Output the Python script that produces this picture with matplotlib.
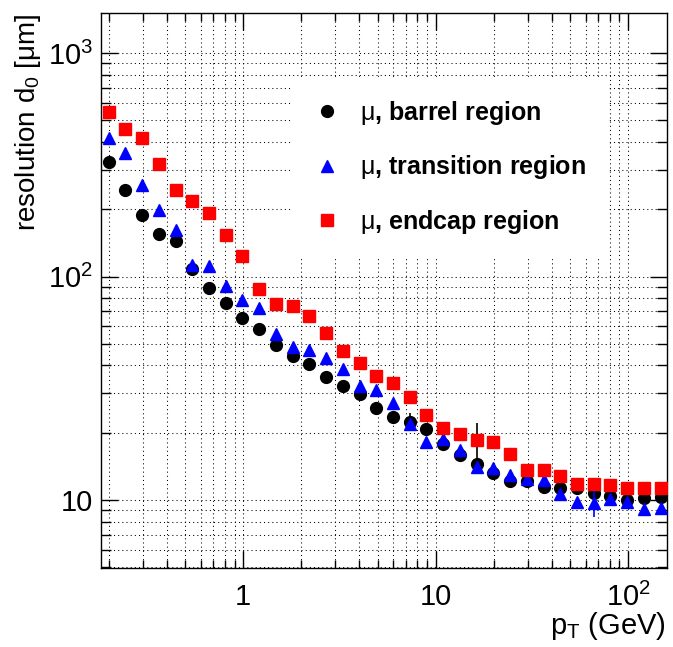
import matplotlib
matplotlib.use("Agg")
import matplotlib.pyplot as plt
from matplotlib.ticker import LogLocator, NullFormatter

plt.rcParams["font.family"] = ["Liberation Sans", "DejaVu Sans"]
plt.rcParams["mathtext.fontset"] = "custom"
plt.rcParams["mathtext.rm"] = "Liberation Sans"
plt.rcParams["mathtext.it"] = "Liberation Sans:italic"
plt.rcParams["mathtext.bf"] = "Liberation Sans:bold"

# pT bin centres (GeV)
pt = [0.2, 0.244, 0.298, 0.364, 0.445, 0.544, 0.664, 0.811, 0.99, 1.21,
      1.48, 1.81, 2.2, 2.69, 3.29, 4.02, 4.91, 5.99, 7.32, 8.94,
      10.9, 13.3, 16.3, 19.9, 24.3, 29.7, 36.3, 44.3, 54.1, 66.1,
      80.7, 98.6, 120, 147]

# d0 resolution (um)
barrel = [325, 243, 189, 155, 145, 108, 89.3, 76.0, 65.1, 58.1,
          49.5, 44.3, 40.6, 35.7, 32.5, 29.8, 25.7, 23.5, 22.4, 20.7,
          17.9, 15.9, 14.5, 13.2, 12.2, 12.1, 11.4, 11.3, 11.3, 10.7,
          10.4, 10.0, 10.2, 10.3]
transition = [419, 359, 256, 199, 162, 113, 112, 91.1, 78.7, 72.6,
              55.2, 48.6, 46.9, 43.1, 38.6, 32.4, 31.1, 27.1, 21.9, 18.2,
              18.8, 16.7, 14.1, 13.9, 12.9, 12.4, 12.3, 10.6, 9.8, 9.65,
              10.15, 9.8, 9.12, 9.25]
endcap = [548, 458, 417, 320, 244, 217, 192, 153, 124, 87.8,
          75.2, 74.1, 66.9, 55.8, 46.6, 40.9, 35.9, 33.3, 29.0, 24.0,
          21.1, 19.8, 18.6, 18.1, 16.1, 13.6, 13.6, 12.85, 11.8, 11.8,
          11.7, 11.3, 11.3, 11.3]

# errors (mostly hidden under the markers)
barrel_err_lo = [0, 0, 0, 0, 0, 0, 0, 0, 0, 0, 0, 0, 0, 0, 0, 0, 0, 0, 2.1, 0,
                 0, 0, 1.3, 0, 0, 0, 0, 0, 0, 0, 0, 0, 0, 0]
barrel_err_hi = [0, 0, 0, 0, 0, 0, 0, 0, 0, 0, 0, 0, 0, 0, 0, 0, 0, 0, 2.1, 0,
                 0, 0, 7.5, 0, 0, 0, 0, 0, 0, 0, 0, 0, 0, 0]
transition_err = [0, 0, 0, 0, 0, 4, 0, 0, 0, 0, 0, 0, 0, 0, 0, 0, 0, 0, 0, 0,
                  0, 0, 0, 0, 0, 0, 0, 0, 0, 1.3, 0, 0, 0, 0]

labels = [r"$\mathrm{\mu}$, barrel region",
          r"$\mathrm{\mu}$, transition region",
          r"$\mathrm{\mu}$, endcap region"]

xtick_vals = [1, 10, 100]
xtick_labels = ["1", "10", r"$10^{2}$"]
ytick_vals = [10, 100, 1000]
ytick_labels = ["10", r"$10^{2}$", r"$10^{3}$"]

fig = plt.figure(figsize=(6.73, 6.47), dpi=100)
ax = fig.add_axes([0.1501, 0.1221, 0.841, 0.8578])
ax.set_xscale("log")
ax.set_yscale("log")
ax.set_xlim(0.1823, 158.9)
ax.set_ylim(4.96, 1514)

eb1 = ax.errorbar(pt, barrel, yerr=[barrel_err_lo, barrel_err_hi], fmt="o",
                  color="black", ms=8.5, elinewidth=1.2, capsize=0, zorder=3)
eb2 = ax.errorbar(pt, transition, yerr=transition_err, fmt="^",
                  color="#0000ff", ms=8, elinewidth=1.2, capsize=0, zorder=4)
eb3 = ax.errorbar(pt, endcap, fmt="s", color="#ff0000", ms=8, zorder=5)

ax.set_xticks(xtick_vals, xtick_labels)
ax.set_yticks(ytick_vals, ytick_labels)
ax.xaxis.set_minor_locator(LogLocator(base=10, subs=range(2, 10), numticks=20))
ax.yaxis.set_minor_locator(LogLocator(base=10, subs=range(2, 10), numticks=20))
ax.xaxis.set_minor_formatter(NullFormatter())
ax.yaxis.set_minor_formatter(NullFormatter())

ax.tick_params(which="both", direction="in", top=True, right=True, width=1)
ax.tick_params(axis="x", which="major", length=12, labelsize=21, pad=11)
ax.tick_params(axis="x", which="minor", length=6)
ax.tick_params(axis="y", which="major", length=12, labelsize=21, pad=6)
ax.tick_params(axis="y", which="minor", length=7)
for s in ax.spines.values():
    s.set_linewidth(1)

ax.grid(True, which="both", color="black", linestyle=(0, (1, 3)), linewidth=0.75)
ax.set_axisbelow(True)

ax.set_xlabel(r"p$_{\mathrm{T}}$ (GeV)", fontsize=21, loc="right")
ax.xaxis.set_label_coords(0.997, -0.076)
ax.set_ylabel(r"resolution d$_{0}$ [μm]", fontsize=20, loc="top")
ax.yaxis.set_label_coords(-0.1025, 1.0)

leg = ax.legend([eb1[0], eb2[0], eb3[0]], labels, loc="upper left",
                bbox_to_anchor=(0.339, 0.883), frameon=True, fancybox=False,
                framealpha=1, facecolor="white", edgecolor="none",
                prop={"weight": "bold", "size": 18}, labelspacing=1.05,
                handlelength=1.0, handletextpad=0.85, borderpad=0.85,
                borderaxespad=0)
leg.set_zorder(2.5)

fig.savefig("out.png", dpi=100)
